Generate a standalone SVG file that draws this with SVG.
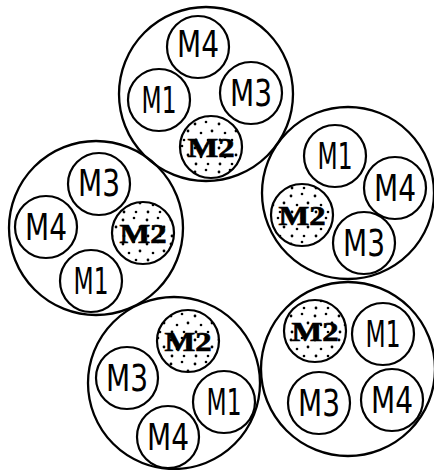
<svg xmlns="http://www.w3.org/2000/svg" width="434" height="470" viewBox="0 0 434 470">
<style>
.big{fill:none;stroke:#000;stroke-width:2.3}
.sm{fill:#fff;stroke:#000;stroke-width:2.2}
.dot{fill:url(#stip);stroke:#000;stroke-width:2.2}
.lb{font-family:"DejaVu Sans","Liberation Sans",sans-serif;font-size:37px;font-weight:normal;text-anchor:middle;fill:#000}
.m2{font-family:"Liberation Serif","DejaVu Serif",serif;font-size:27px;font-weight:bold;text-anchor:middle;fill:#000;stroke:#000;stroke-width:0.7}
</style>
<defs>
<pattern id="stip" patternUnits="userSpaceOnUse" width="24" height="24">
<rect width="24" height="24" fill="#fff"/>
<circle cx="3" cy="4" r="1.4" fill="#000"/>
<circle cx="14" cy="2" r="1.3" fill="#000"/>
<circle cx="20" cy="11" r="1.4" fill="#000"/>
<circle cx="9" cy="13" r="1.3" fill="#000"/>
<circle cx="4" cy="20" r="1.4" fill="#000"/>
<circle cx="16" cy="20" r="1.3" fill="#000"/>
</pattern>
</defs>

<g id="cluster-top">
<circle class="big" cx="206" cy="94" r="87"/>
<g id="top-M4"><circle class="sm" cx="198" cy="47" r="31"/><text class="lb" x="198" y="57" textLength="42" lengthAdjust="spacingAndGlyphs">M4</text></g>
<g id="top-M1"><circle class="sm" cx="159" cy="100" r="31"/><text class="lb" x="159" y="113" textLength="35" lengthAdjust="spacingAndGlyphs">M1</text></g>
<g id="top-M3"><circle class="sm" cx="251" cy="93" r="31"/><text class="lb" x="251" y="106" textLength="42" lengthAdjust="spacingAndGlyphs">M3</text></g>
<g id="top-M2"><circle class="dot" cx="211" cy="147" r="31"/><text class="m2" x="211" y="157" textLength="47" lengthAdjust="spacingAndGlyphs">M2</text></g>
</g>

<g id="cluster-left">
<circle class="big" cx="96" cy="228" r="87"/>
<g id="left-M3"><circle class="sm" cx="99" cy="184" r="31"/><text class="lb" x="99" y="196" textLength="42" lengthAdjust="spacingAndGlyphs">M3</text></g>
<g id="left-M4"><circle class="sm" cx="46" cy="227" r="31"/><text class="lb" x="46" y="240" textLength="42" lengthAdjust="spacingAndGlyphs">M4</text></g>
<g id="left-M2"><circle class="dot" cx="143" cy="233" r="31"/><text class="m2" x="143" y="243" textLength="47" lengthAdjust="spacingAndGlyphs">M2</text></g>
<g id="left-M1"><circle class="sm" cx="91" cy="281" r="31"/><text class="lb" x="91" y="294" textLength="35" lengthAdjust="spacingAndGlyphs">M1</text></g>
</g>

<g id="cluster-right">
<circle class="big" cx="348" cy="193" r="86"/>
<g id="right-M1"><circle class="sm" cx="335" cy="156" r="31"/><text class="lb" x="335" y="169" textLength="35" lengthAdjust="spacingAndGlyphs">M1</text></g>
<g id="right-M4"><circle class="sm" cx="395" cy="188" r="31"/><text class="lb" x="395" y="201" textLength="42" lengthAdjust="spacingAndGlyphs">M4</text></g>
<g id="right-M2"><circle class="dot" cx="302" cy="215" r="31"/><text class="m2" x="302" y="225" textLength="47" lengthAdjust="spacingAndGlyphs">M2</text></g>
<g id="right-M3"><circle class="sm" cx="364" cy="243" r="31"/><text class="lb" x="364" y="256" textLength="42" lengthAdjust="spacingAndGlyphs">M3</text></g>
</g>

<g id="cluster-bottom-left">
<circle class="big" cx="174" cy="383" r="86"/>
<g id="bl-M2"><circle class="dot" cx="188" cy="341" r="31"/><text class="m2" x="188" y="351" textLength="47" lengthAdjust="spacingAndGlyphs">M2</text></g>
<g id="bl-M3"><circle class="sm" cx="127" cy="378" r="31"/><text class="lb" x="127" y="391" textLength="42" lengthAdjust="spacingAndGlyphs">M3</text></g>
<g id="bl-M1"><circle class="sm" cx="224" cy="402" r="31"/><text class="lb" x="224" y="415" textLength="35" lengthAdjust="spacingAndGlyphs">M1</text></g>
<g id="bl-M4"><circle class="sm" cx="168" cy="437" r="31"/><text class="lb" x="168" y="450" textLength="42" lengthAdjust="spacingAndGlyphs">M4</text></g>
</g>

<g id="cluster-bottom-right">
<circle class="big" cx="348" cy="369" r="87"/>
<g id="br-M2"><circle class="dot" cx="315" cy="331" r="31"/><text class="m2" x="315" y="341" textLength="47" lengthAdjust="spacingAndGlyphs">M2</text></g>
<g id="br-M1"><circle class="sm" cx="383" cy="334" r="31"/><text class="lb" x="383" y="347" textLength="35" lengthAdjust="spacingAndGlyphs">M1</text></g>
<g id="br-M3"><circle class="sm" cx="319" cy="403" r="31"/><text class="lb" x="319" y="416" textLength="42" lengthAdjust="spacingAndGlyphs">M3</text></g>
<g id="br-M4"><circle class="sm" cx="392" cy="400" r="31"/><text class="lb" x="392" y="413" textLength="42" lengthAdjust="spacingAndGlyphs">M4</text></g>
</g>
</svg>
